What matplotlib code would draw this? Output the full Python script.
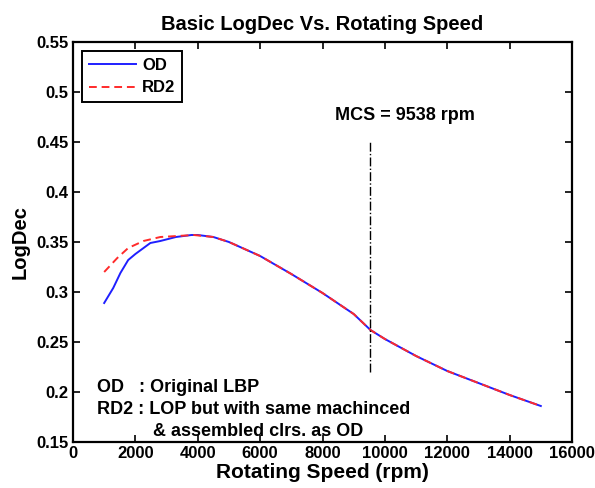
#! /usr/bin/env python3
"""Basic LogDec vs. rotating speed, OD and RD2 bearing designs."""

import matplotlib
matplotlib.use('Agg')
import matplotlib.pyplot as plt

# speeds in rpm
rpm_od = [1000, 1290, 1520, 1770, 2000, 2480, 2800, 3300, 3800, 4000,
          4500, 5000, 5500, 6000, 7000, 8000, 9000, 9538, 10000, 11000,
          12000, 13000, 14000, 15000]
logdec_od = [0.289, 0.304, 0.319, 0.332, 0.338, 0.349, 0.351, 0.355, 0.357, 0.357,
             0.355, 0.350, 0.343, 0.336, 0.318, 0.299, 0.278, 0.262, 0.253, 0.236,
             0.221, 0.209, 0.197, 0.186]

rpm_rd2 = [1000, 1420, 1770, 2260, 2800, 3350, 3870,
           4500, 5000, 5500, 6000, 7000, 8000, 9000, 9538, 10000, 11000,
           12000, 13000, 14000, 15000]
logdec_rd2 = [0.320, 0.334, 0.344, 0.351, 0.355, 0.356, 0.357,
              0.355, 0.350, 0.343, 0.336, 0.318, 0.299, 0.278, 0.262, 0.253, 0.236,
              0.221, 0.209, 0.197, 0.186]

mcs = 9538
mcs_span = [0.22, 0.45]

x_ticks = [0, 2000, 4000, 6000, 8000, 10000, 12000, 14000, 16000]
y_ticks = [0.15, 0.2, 0.25, 0.3, 0.35, 0.4, 0.45, 0.5, 0.55]

note_lines = ['OD   : Original LBP',
              'RD2 : LOP but with same machinced',
              '& assembled clrs. as OD']


def main():
    plt.rcParams['font.family'] = ['Liberation Sans', 'DejaVu Sans']
    plt.rcParams['font.weight'] = 'bold'

    fig = plt.figure(figsize=(5.95, 4.88), dpi=100)
    ax = fig.add_axes([73 / 595, 46 / 488, 499 / 595, 400 / 488])

    ax.plot(rpm_od, logdec_od, color='#1f1fff', lw=1.4, label='OD')
    ax.plot(rpm_rd2, logdec_rd2, color='#ff2a2a', lw=1.4, ls=(0, (4, 2.5)),
            label='RD2')
    ax.plot([mcs, mcs], mcs_span, color='black', lw=1.0, ls='-.')

    ax.text(8400, 0.477, 'MCS = 9538 rpm', fontsize=13, fontweight='bold',
            va='center')
    ax.text(780, 0.205, note_lines[0], fontsize=13, fontweight='bold', va='center')
    ax.text(780, 0.183, note_lines[1], fontsize=13, fontweight='bold', va='center')
    ax.text(2560, 0.161, note_lines[2], fontsize=13, fontweight='bold', va='center')

    ax.set_xlim(0, 16000)
    ax.set_ylim(0.15, 0.55)
    ax.set_xticks(x_ticks)
    ax.set_yticks(y_ticks)
    ax.set_xticklabels([str(t) for t in x_ticks], fontsize=12, fontweight='bold')
    ax.set_yticklabels(['{:g}'.format(t) for t in y_ticks], fontsize=12,
                       fontweight='bold')
    ax.tick_params(direction='in', top=True, right=True, length=5, width=1.2,
                   pad=3)
    for sp in ax.spines.values():
        sp.set_linewidth(1.6)

    ax.set_xlabel('Rotating Speed (rpm)', fontsize=15, fontweight='bold',
                  labelpad=1)
    ax.set_ylabel('LogDec', fontsize=14.5, fontweight='bold', labelpad=5)
    ax.set_title('Basic LogDec Vs. Rotating Speed', fontsize=14.5,
                 fontweight='bold', pad=9)

    leg = ax.legend(loc='upper left', fontsize=12, handlelength=2.8,
                    handletextpad=0.4, borderpad=0.4, labelspacing=0.45,
                    fancybox=False, framealpha=1, edgecolor='black',
                    borderaxespad=0.55)
    leg.get_frame().set_linewidth(1.4)
    for t in leg.get_texts():
        t.set_fontweight('bold')

    fig.savefig('out.png', dpi=100)


if __name__ == "__main__":
    main()
